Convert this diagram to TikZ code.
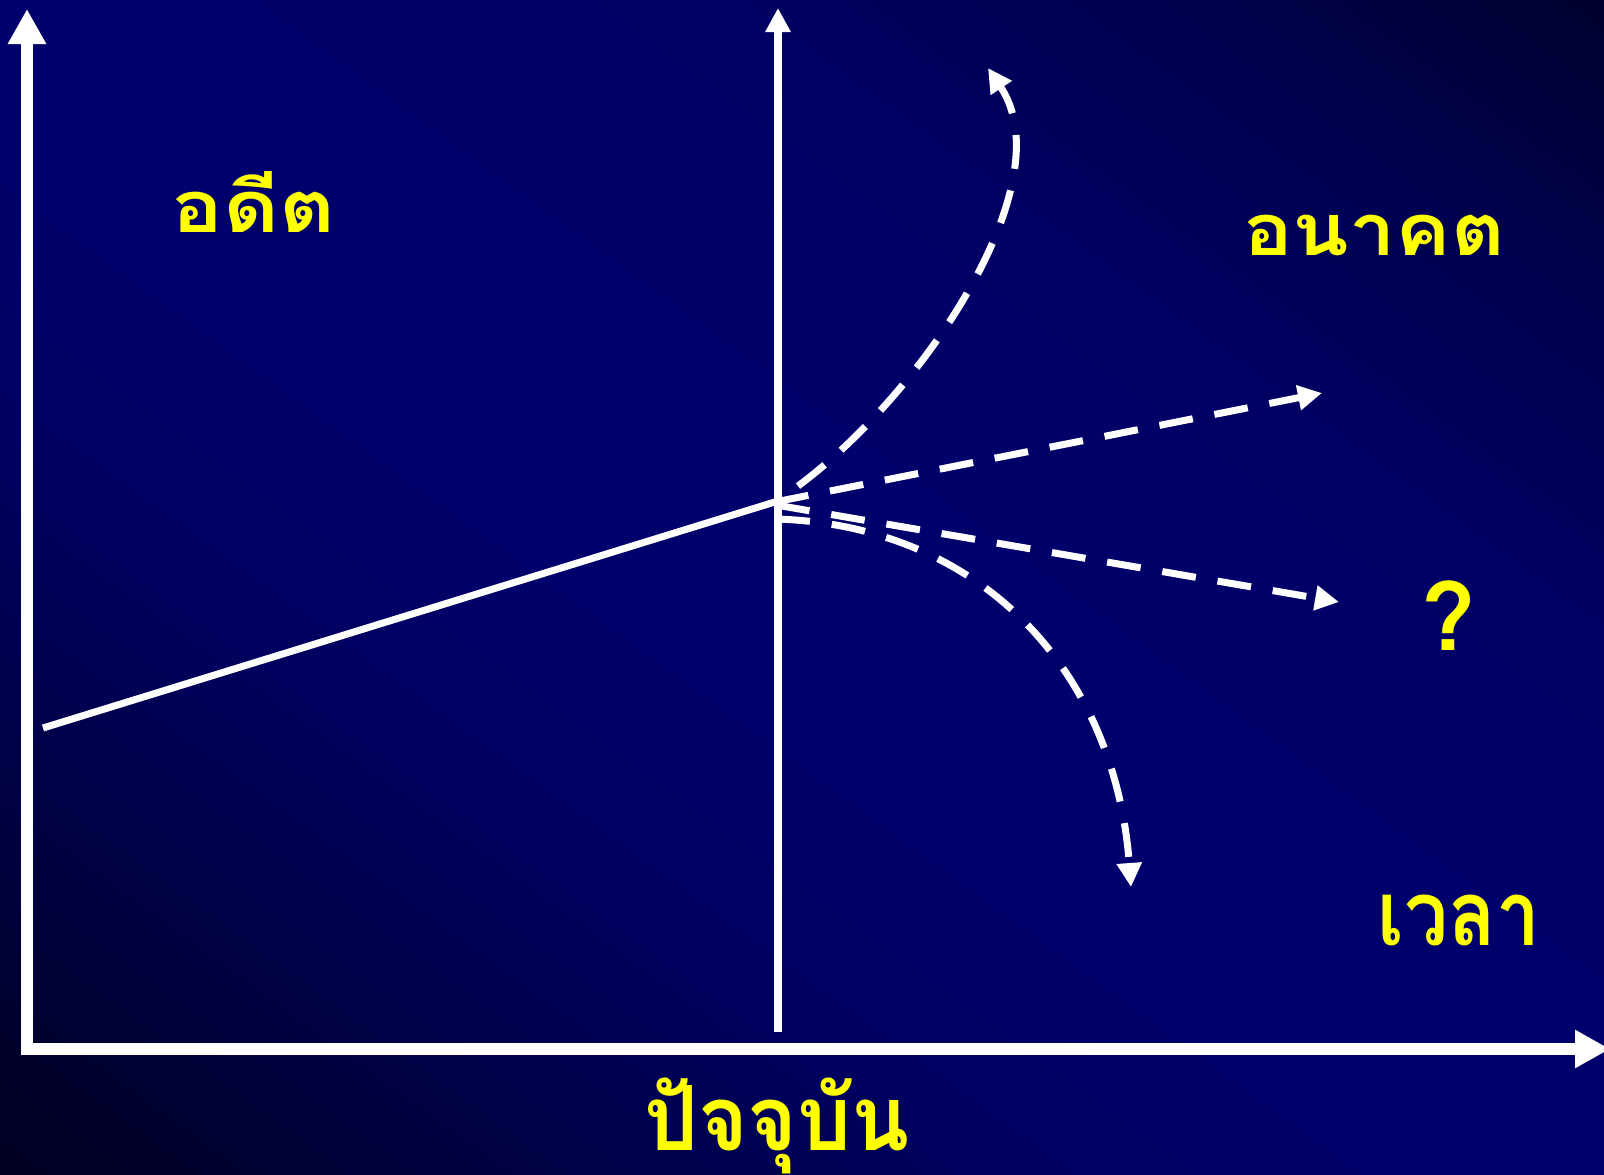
\documentclass[tikz,border=0pt]{standalone}
\usepackage{fontspec}
\usepackage{graphicx}
\newfontfamily\thaifont[Script=Thai]{Loma}
\usetikzlibrary{arrows.meta}
\definecolor{bgA}{RGB}{0,0,28}
\definecolor{bgB}{RGB}{0,0,32}
\definecolor{bgC}{RGB}{0,0,62}
\definecolor{bgD}{RGB}{0,0,92}
\definecolor{bgE}{RGB}{0,0,108}
\definecolor{bgF}{RGB}{0,0,108}
\definecolor{bgG}{RGB}{0,0,100}
\definecolor{bgH}{RGB}{0,0,80}
\definecolor{bgI}{RGB}{0,0,45}
\definecolor{bgJ}{RGB}{0,0,40}
\pgfdeclareverticalshading{bgshade}{100bp}{color(0bp)=(bgA); color(15bp)=(bgB); color(25bp)=(bgC); color(35bp)=(bgD); color(45bp)=(bgE); color(55bp)=(bgF); color(65bp)=(bgG); color(75bp)=(bgH); color(85bp)=(bgI); color(100bp)=(bgJ)}
\definecolor{thaiyellow}{RGB}{255,255,0}
\tikzset{
  axisline/.style={white, line width=12pt, -{Triangle[length=35pt,width=36pt]}},
  nowline/.style={white, line width=8pt, -{Triangle[length=24pt,width=24pt]}},
  trendline/.style={white, line width=7pt},
  futureline/.style={white, line width=7pt, dash pattern=on 34pt off 22pt, -{Triangle[length=24pt,width=24pt]}},
  thailabel/.style={text=thaiyellow, inner sep=0pt, anchor=base},
}
\begin{document}
\begin{tikzpicture}[x=1pt,y=-1pt]
\shade[shading=bgshade, shading angle=-36] (0pt,0pt) rectangle (1604pt,-1175pt);
\useasboundingbox (0pt,0pt) rectangle (1604pt,-1175pt);
% coordinates
\coordinate (yBot) at (27,1055);
\coordinate (yTop) at (27,9);
\coordinate (xLeft) at (21,1049);
\coordinate (xRight) at (1610,1049);
\coordinate (nowBot) at (778,1032);
\coordinate (nowTop) at (778,8);
\coordinate (pastStart) at (43,728);
\coordinate (now) at (778,501);
\coordinate (upStart) at (798,486);
\coordinate (upEnd) at (988,68);
\coordinate (hiStart) at (775,502);
\coordinate (hiEnd) at (1322,393);
\coordinate (loStart) at (776,505);
\coordinate (loEnd) at (1339,602);
\coordinate (downStart) at (776,519);
\coordinate (downEnd) at (1131,887);
% axes
\draw[axisline] (yBot) -- (yTop);
\draw[axisline] (xLeft) -- (xRight);
% past trend
\draw[trendline] (pastStart) -- (now);
% present line
\draw[nowline] (nowBot) -- (nowTop);
% future scenarios
\draw[futureline] (upStart) .. controls (925,392) and (1064,182) .. (upEnd);
\draw[futureline] (hiStart) -- (hiEnd);
\draw[futureline] (loStart) -- (loEnd);
\draw[futureline] (downStart) .. controls (980,525) and (1115,670) .. (downEnd);
% labels
\node[thailabel, font=\thaifont\bfseries\fontsize{72pt}{80pt}\selectfont] (past) at (254,232) {\scalebox{1.2}[1]{อดีต}};
\node[thailabel, font=\thaifont\bfseries\fontsize{72pt}{80pt}\selectfont] (future) at (1374,255) {\scalebox{1.15}[1]{อนาคต}};
\node[thailabel, font=\thaifont\bfseries\fontsize{90pt}{100pt}\selectfont] (time) at (1459,945) {\scalebox{0.87}[1]{เวลา}};
\node[thailabel, font=\thaifont\bfseries\fontsize{90pt}{100pt}\selectfont] (present) at (777,1150) {\scalebox{0.945}[1]{ปัจจุบัน}};
\node[thailabel, font=\thaifont\bfseries\fontsize{95pt}{100pt}\selectfont] (question) at (1449,650) {?};
\end{tikzpicture}
\end{document}
